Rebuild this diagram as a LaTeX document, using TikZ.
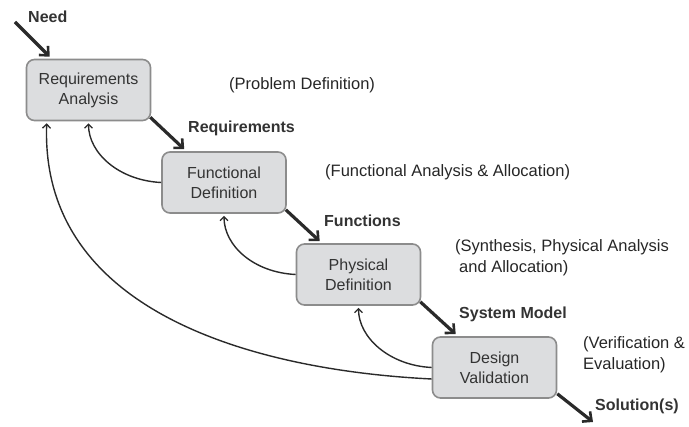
\documentclass[tikz,border=0pt]{standalone}
\usepackage{fontspec}
\setmainfont{Liberation Sans}
\usetikzlibrary{arrows.meta,calc}
\definecolor{boxfill}{HTML}{DCDDDF}
\definecolor{boxline}{HTML}{8C8C8C}
\definecolor{ink}{HTML}{2A2A2A}
\definecolor{txt}{HTML}{333333}
\begin{document}
\begin{tikzpicture}[x=1pt,y=-1pt,
  stagebox/.style={draw=boxline,fill=boxfill,line width=1.6pt,rounded corners=8pt,
    minimum width=124pt,minimum height=61pt,inner sep=0pt,align=center,
    text=txt,font=\fontsize{16}{20}\selectfont},
  flowlabel/.style={font=\fontsize{16}{20}\selectfont\bfseries,text=txt,anchor=west,inner sep=0pt},
  notelabel/.style={font=\fontsize{16.5}{21}\selectfont,text=black!85,anchor=west,inner sep=0pt,align=left},
  mainflow/.style={draw=ink,line width=3.2pt,-{Straight Barb[length=7pt,width=13pt,line width=2.6pt]}},
  feedback/.style={draw=ink,line width=1.4pt,-{Straight Barb[length=4pt,width=8pt,line width=1.3pt]}}
]
\useasboundingbox (0,0) rectangle (689,427);

\node[stagebox] (ra) at (88.5,90) {Requirements\\Analysis};
\node[stagebox] (fd) at (224,182.5) {Functional\\Definition};
\node[stagebox] (pd) at (358.5,274.5) {Physical\\Definition};
\node[stagebox] (dv) at (494.5,367.5) {Design\\Validation};

\coordinate (needstart) at (15,22);
\coordinate (solend) at (593,422);

% main flow
\draw[mainflow] (needstart) -- ($(ra.north west)+(24,-2)$);
\draw[mainflow] ($(ra.south east)+(-1,-4)$) -- ($(fd.north west)+(23,-2)$);
\draw[mainflow] ($(fd.south east)+(-1,-4)$) -- ($(pd.north west)+(24,-2)$);
\draw[mainflow] ($(pd.south east)+(-1,-4)$) -- ($(dv.north west)+(24,-2)$);
\draw[mainflow] ($(dv.south east)+(0,-5)$) -- (solend);

% feedback loops
\draw[feedback] (fd.west) .. controls +(-42,-2) and +(0,30) .. ($(ra.south)+(0,2)$);
\draw[feedback] (pd.west) .. controls +(-42,-2) and +(0,30) .. ($(fd.south)+(0,2)$);
\draw[feedback] (dv.west) .. controls +(-42,-2) and +(0,30) .. ($(pd.south)+(0,2)$);
\draw[feedback] ($(dv.west)+(0,11.5)$) .. controls (250,370) and (40,310) .. ($(ra.south west)+(21,2)$);

% labels
\node[flowlabel] (need) at (28,17) {Need};
\node[flowlabel] (lreq) at (188,128) {Requirements};
\node[flowlabel] (lfun) at (324,221) {Functions};
\node[flowlabel] (lsys) at (459,314) {System Model};
\node[flowlabel] (lsol) at (595,406) {Solution(s)};

\node[notelabel] (n1) at (229,85) {(Problem Definition)};
\node[notelabel] (n2) at (325,172) {(Functional Analysis \& Allocation)};
\node[notelabel] (n3) at (455,258) {(Synthesis, Physical Analysis\\\hspace{4pt}and Allocation)};
\node[notelabel] (n4) at (583,355) {(Verification \&\\Evaluation)};
\end{tikzpicture}
\end{document}
